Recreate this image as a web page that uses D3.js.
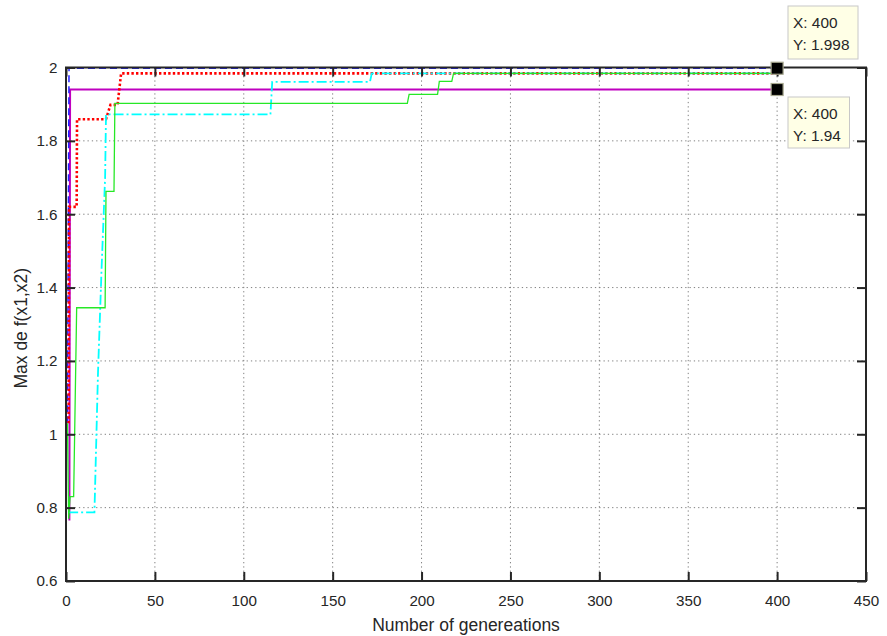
<!DOCTYPE html>
<html><head><meta charset="utf-8">
<script src="https://cdn.jsdelivr.net/npm/d3@7"></script>
<style>
html,body{margin:0;padding:0;background:#fff;}
svg text{font-family:"Liberation Sans",Arial,Helvetica,sans-serif;fill:#262626;}
</style></head>
<body><svg id="c" width="887" height="636"></svg>
<script>
// ---- data ----
const xTicks = [0, 50, 100, 150, 200, 250, 300, 350, 400, 450];
const yTicks = [0.6, 0.8, 1, 1.2, 1.4, 1.6, 1.8, 2];
const yTickLabels = ["0.6", "0.8", "1", "1.2", "1.4", "1.6", "1.8", "2"];

const blueGen = [0.8, 1.7, 400];
const blueVal = [1.03, 1.998, 1.998];

const magentaGen = [1.9, 2.3, 400];
const magentaVal = [0.765, 1.94, 1.94];

const redGen = [1.5, 1.7, 6, 6.2, 22.5, 25, 29, 31, 400];
const redVal = [1.03, 1.62, 1.62, 1.859, 1.859, 1.898, 1.898, 1.984, 1.984];

const greenGen = [0.8, 1.5, 2.3, 4.3, 6, 22, 22.5, 27, 27.5, 192, 193, 209, 210, 217, 218, 400];
const greenVal = [1.03, 0.77, 0.83, 0.83, 1.345, 1.345, 1.662, 1.662, 1.902, 1.902, 1.927, 1.927, 1.962, 1.962, 1.984, 1.984];

const cyanGen = [1.2, 16, 18, 20, 22, 22.5, 115, 116, 171, 172, 400];
const cyanVal = [0.787, 0.787, 1.168, 1.45, 1.7, 1.872, 1.872, 1.961, 1.961, 1.984, 1.984];

const tips = [
  {gen: 400, val: 1.998, lines: ["X: 400", "Y: 1.998"]},
  {gen: 400, val: 1.94, lines: ["X: 400", "Y: 1.94"]}
];

// ---- layout ----
const L = 66, R = 866, T = 67.5, B = 581;
const svg = d3.select("#c");
const x = d3.scaleLinear().domain([0, 450]).range([L, R]);
const y = d3.scaleLinear().domain([0.6, 2]).range([B, T]);

// grid
const grid = svg.append("g");
grid.selectAll("line.gx").data(xTicks.slice(1, -1)).enter().append("line")
  .attr("x1", d => x(d)).attr("x2", d => x(d)).attr("y1", T).attr("y2", B)
  .attr("stroke", "#808080").attr("stroke-width", 1).attr("stroke-dasharray", "1.3,3");
grid.selectAll("line.gy").data(yTicks.slice(1, -1)).enter().append("line")
  .attr("y1", d => y(d)).attr("y2", d => y(d)).attr("x1", L).attr("x2", R)
  .attr("stroke", "#808080").attr("stroke-width", 1).attr("stroke-dasharray", "1.3,3");

// series
svg.append("defs").append("clipPath").attr("id", "clip")
  .append("rect").attr("x", L).attr("y", T - 2).attr("width", R - L).attr("height", B - T + 2);
const lg = svg.append("g").attr("clip-path", "url(#clip)");
const line = d3.line().x(d => x(d[0])).y(d => y(d[1]));
const series = [
  {g: magentaGen, v: magentaVal, color: "#bf00bf", w: 2, dash: null},
  {g: blueGen, v: blueVal, color: "#2020ff", w: 1.5, dash: "7,4"},
  {g: redGen, v: redVal, color: "#ff0000", w: 2.6, dash: "2.4,2.2"},
  {g: cyanGen, v: cyanVal, color: "#00ffff", w: 1.8, dash: "10,3,2,3"},
  {g: greenGen, v: greenVal, color: "#26e826", w: 1.3, dash: null}
];
series.forEach(s => {
  lg.append("path").datum(d3.zip(s.g, s.v)).attr("d", line)
    .attr("fill", "none").attr("stroke", s.color).attr("stroke-width", s.w)
    .attr("stroke-dasharray", s.dash);
});

// frame
svg.append("rect").attr("x", L).attr("y", T).attr("width", R - L).attr("height", B - T)
  .attr("fill", "none").attr("stroke", "#262626").attr("stroke-width", 2);

// axes via d3
const tl = 9;
const xAx = svg.append("g").attr("transform", `translate(0,${B})`)
  .call(d3.axisBottom(x).tickValues(xTicks).tickSizeInner(-tl).tickSizeOuter(0));
const xAxT = svg.append("g").attr("transform", `translate(0,${T})`)
  .call(d3.axisTop(x).tickValues(xTicks).tickSizeInner(-tl).tickSizeOuter(0).tickFormat(""));
const yAx = svg.append("g").attr("transform", `translate(${L},0)`)
  .call(d3.axisLeft(y).tickValues(yTicks).tickSizeInner(-tl).tickSizeOuter(0)
    .tickFormat((d, i) => yTickLabels[i]));
const yAxR = svg.append("g").attr("transform", `translate(${R},0)`)
  .call(d3.axisRight(y).tickValues(yTicks).tickSizeInner(-tl).tickSizeOuter(0).tickFormat(""));
[xAx, xAxT, yAx, yAxR].forEach(a => {
  a.select(".domain").remove();
  a.selectAll(".tick line").attr("stroke", "#262626").attr("stroke-width", 2);
  a.selectAll(".tick text").attr("font-size", 15.2).attr("fill", "#262626")
    .style("font-family", "'Liberation Sans',Arial,sans-serif");
});
xAx.selectAll(".tick text").attr("dy", "0.71em").attr("y", 14);
yAx.selectAll(".tick text").attr("x", -8.5);

// axis titles
svg.append("text").attr("x", (L + R) / 2).attr("y", 631).attr("text-anchor", "middle")
  .attr("font-size", 17.5).text("Number of genereations");
svg.append("text").attr("transform", `translate(27,${(T + B) / 2 + 4}) rotate(-90)`)
  .attr("text-anchor", "middle").attr("font-size", 17.5).text("Max de f(x1,x2)");

// data tips
const tipBoxes = [{x: 788, y: 6, w: 70, h: 53}, {x: 788, y: 97, w: 61.5, h: 51}];
tips.forEach((t, i) => {
  const g = svg.append("g");
  g.append("rect").attr("x", x(t.gen) - 6).attr("y", y(t.val) - 6).attr("width", 12).attr("height", 12)
    .attr("fill", "#000").attr("stroke", "#a8a890").attr("stroke-width", 1.2);
  const b = tipBoxes[i];
  g.append("rect").attr("x", b.x).attr("y", b.y).attr("width", b.w).attr("height", b.h)
    .attr("fill", "#ffffe6").attr("stroke", "#c8c8c8").attr("stroke-width", 1);
  t.lines.forEach((ln, j) => {
    g.append("text").attr("x", b.x + 5).attr("y", b.y + 22 + j * 21.5)
      .attr("font-size", 15.4).attr("fill", "#111").text(ln);
  });
});
</script></body></html>
